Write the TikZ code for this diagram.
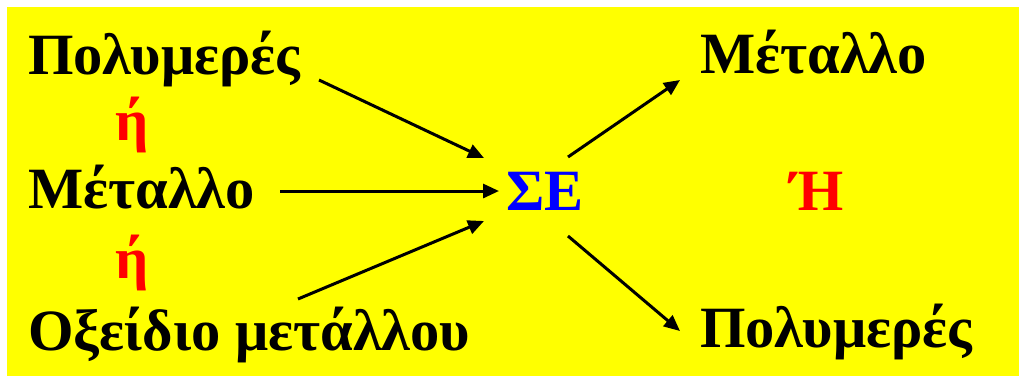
\documentclass[tikz,border=0pt]{standalone}
\usepackage{fontspec}
\setmainfont{Liberation Serif}
\usetikzlibrary{arrows.meta}
\definecolor{bgyellow}{RGB}{255,255,0}
\definecolor{sered}{RGB}{255,0,0}
\definecolor{seblue}{RGB}{0,0,255}
\tikzset{
  lbl/.style={anchor=base west, inner sep=0pt, font=\fontsize{58.5}{62}\selectfont\bfseries},
  arr/.style={line width=3pt, -{Triangle[length=16pt,width=14pt]}},
}
\begin{document}
\begin{tikzpicture}[x=1pt,y=-1pt]
\useasboundingbox (0,0) rectangle (1019,376);
\fill[bgyellow] (7,7) rectangle (1019,376);
\node[lbl] (poly1) at (28,74) {Πολυμερές};
\node[lbl,text=sered] (or1) at (115,140) {ή};
\node[lbl] (met1) at (28,208) {Μέταλλο};
\node[lbl,text=sered] (or2) at (115,278) {ή};
\node[lbl] (oxid) at (28,350) {Οξείδιο μετάλλου};
\node[lbl,text=seblue] (se) at (506,210) {ΣΕ};
\node[lbl] (met2) at (700,73) {Μέταλλο};
\node[lbl,text=sered] (or3) at (790,210) {Ή};
\node[lbl] (poly2) at (700,347) {Πολυμερές};
\coordinate (a1s) at (319,80);
\coordinate (a1e) at (484,158);
\coordinate (a2s) at (280,191);
\coordinate (a2e) at (499,191);
\coordinate (a3s) at (298,299);
\coordinate (a3e) at (484,221);
\coordinate (a4s) at (568,157);
\coordinate (a4e) at (680,80);
\coordinate (a5s) at (568,236);
\coordinate (a5e) at (680,331);
\draw[arr] (a1s) -- (a1e);
\draw[arr] (a2s) -- (a2e);
\draw[arr] (a3s) -- (a3e);
\draw[arr] (a4s) -- (a4e);
\draw[arr] (a5s) -- (a5e);
\end{tikzpicture}
\end{document}
